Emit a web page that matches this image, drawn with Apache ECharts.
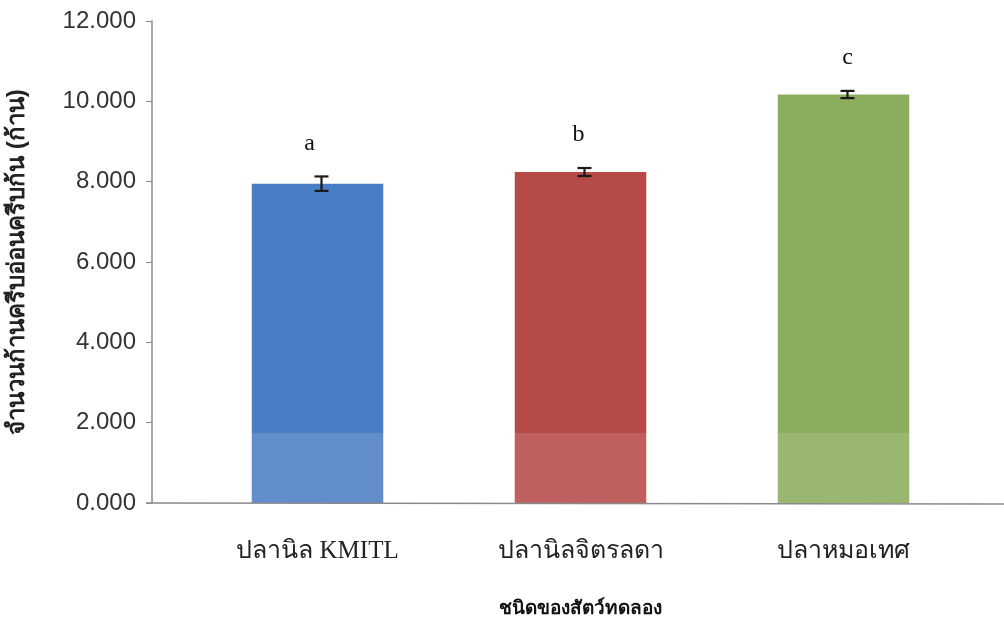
<!DOCTYPE html>
<html><head><meta charset="utf-8">
<script src="https://cdn.jsdelivr.net/npm/echarts@6/dist/echarts.min.js"></script>
<style>html,body{margin:0;padding:0;background:#fff}#c{width:1004px;height:624px}</style>
</head><body><div id="c"></div>
<script>
const categories = ['ปลานิล KMITL', 'ปลานิลจิตรลดา', 'ปลาหมอเทศ'];
const means = [7.95, 8.24, 10.17];
const errors = [0.18, 0.10, 0.09];
const letters = ['a', 'b', 'c'];
const barColors = ['#4A7EC4', '#B54A47', '#8CAD5E'];
const yTicks = [0, 2, 4, 6, 8, 10, 12];
const fadeBandTop = 1.74;

const chart = echarts.init(document.getElementById('c'), null, {renderer: 'canvas'});
chart.setOption({
  animation: false,
  backgroundColor: '#ffffff',
  grid: {left: 186, right: 29, top: 21, bottom: 121, outerBoundsMode: 'none', containLabel: false},
  xAxis: {
    type: 'category',
    data: categories,
    axisLine: {show: false},
    axisTick: {show: false},
    axisLabel: {margin: 36, color: '#222', fontSize: 25, fontFamily: 'serif'},
    name: 'ชนิดของสัตว์ทดลอง',
    nameLocation: 'middle',
    nameGap: 97,
    nameTextStyle: {fontSize: 19, fontWeight: 'bold', color: '#111', fontFamily: 'serif'}
  },
  yAxis: {
    type: 'value',
    min: 0, max: 12, interval: 2,
    offset: 34,
    axisLine: {show: true, lineStyle: {color: '#8a8a8a', width: 1.5}},
    axisTick: {show: true, length: 6, lineStyle: {color: '#8a8a8a'}},
    splitLine: {show: false},
    axisLabel: {
      color: '#333', fontSize: 24, fontFamily: 'Liberation Sans', margin: 16,
      formatter: v => yTicks.includes(v) ? v.toFixed(3) : ''
    },
    name: 'จำนวนก้านครีบอ่อนครีบก้น (ก้าน)',
    nameLocation: 'middle',
    nameGap: 123,
    nameRotate: 90,
    nameTextStyle: {fontSize: 24, fontWeight: 'bold', color: '#222', fontFamily: 'sans-serif'}
  },
  graphic: [{
    type: 'line', z: 5,
    shape: {x1: 146, y1: 503, x2: 1004, y2: 504},
    style: {stroke: '#8a8a8a', lineWidth: 1.5}
  }],
  series: [{
    type: 'bar',
    data: means.map((v, i) => ({value: v, itemStyle: {color: barColors[i]}})),
    barWidth: '50%',
    z: 2
  }, {
    type: 'custom',
    z: 4,
    data: means.map((v, i) => [i, v, errors[i], letters[i]]),
    renderItem: (params, api) => {
      const i = api.value(0), m = api.value(1), e = api.value(2);
      const top = api.coord([i, m + e]);
      const bot = api.coord([i, m - e]);
      const x = top[0] + 4;
      const cap = 7;
      const st = {stroke: '#1a1a1a', lineWidth: 2.2};
      const children = [
        {type: 'line', shape: {x1: x, y1: top[1], x2: x, y2: bot[1]}, style: st},
        {type: 'line', shape: {x1: x - cap, y1: top[1], x2: x + cap, y2: top[1]}, style: st},
        {type: 'line', shape: {x1: x - cap, y1: bot[1], x2: x + cap, y2: bot[1]}, style: st},
        {type: 'text', x: x - 12 + i * 6, y: top[1] - 33,
         style: {text: letters[i], fill: '#111', font: '24px "Liberation Serif", serif', align: 'center', verticalAlign: 'middle'}}
      ];
      if (i === 0) {
        const cs = params.coordSys;
        const yTop = api.coord([0, fadeBandTop])[1];
        const y0 = api.coord([0, 0])[1];
        children.unshift({type: 'rect', shape: {x: cs.x, y: yTop, width: cs.width, height: y0 - yTop},
          style: {fill: 'rgba(255,255,255,0.13)'}});
      }
      return {type: 'group', children};
    }
  }]
});
</script>
</body></html>
